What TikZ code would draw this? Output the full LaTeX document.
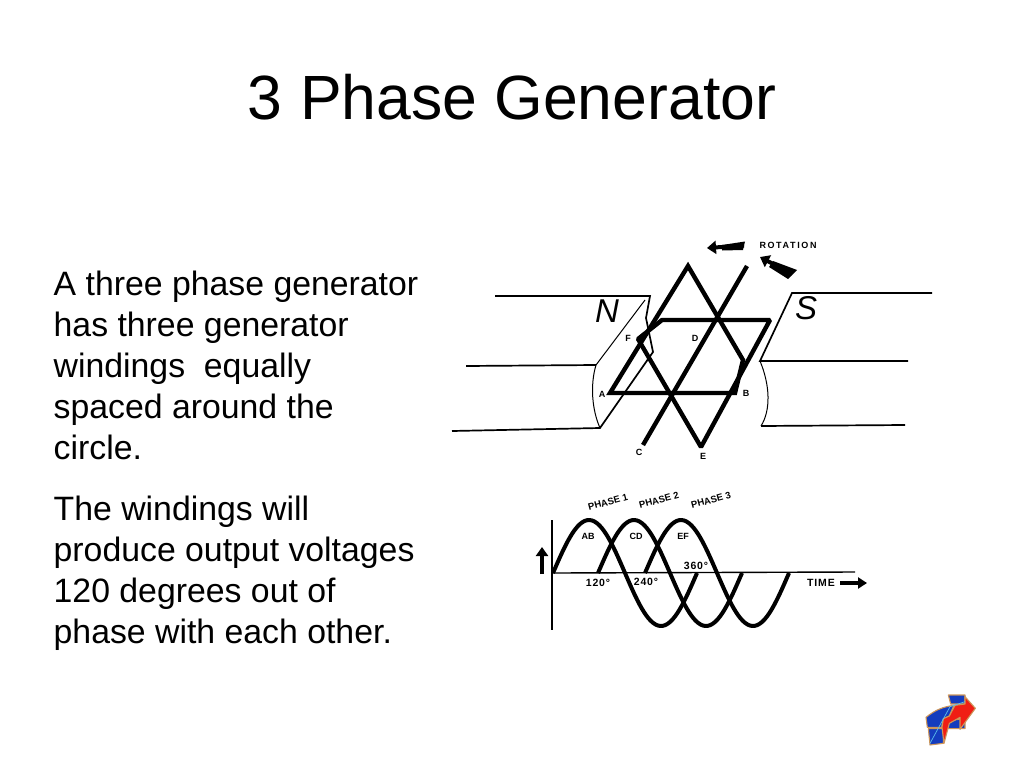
\documentclass[tikz,border=0pt]{standalone}
\usepackage{fontspec}
\setmainfont{Liberation Sans}
\usetikzlibrary{arrows.meta}
\definecolor{logoblue}{RGB}{20,60,190}
\definecolor{logored}{RGB}{240,30,20}
\definecolor{logoedge}{RGB}{205,150,90}
\definecolor{logoline}{RGB}{90,190,235}
\begin{document}
\begin{tikzpicture}[x=1pt,y=-1pt,
    winding/.style={line width=4.4pt,line join=miter},
    pole/.style={line width=1.7pt},
    poleedge/.style={line width=1pt},
    wave/.style={line width=4pt,line join=round},
    bigarrow/.style={line width=4pt,-{Triangle[length=9pt,width=13pt]}},
    bodytext/.style={anchor=north west,inner sep=0pt,align=left,font=\fontsize{33.8}{41}\selectfont},
    small/.style={inner sep=0pt,font=\fontsize{9}{10}\selectfont\bfseries},
    phase/.style={inner sep=0pt,rotate=15,font=\fontsize{9.5}{10}\selectfont\bfseries},
    wide/.style={inner sep=0pt,font=\fontsize{10.5}{12}\selectfont\bfseries\addfontfeature{LetterSpace=8}},
    poletext/.style={inner sep=0pt,font=\fontsize{33}{36}\selectfont\itshape},
    logopart/.style={draw=logoedge,line width=1.1pt,line join=round}]
    \useasboundingbox (0,0) rectangle (1024,768);

    \node[inner sep=0pt,font=\fontsize{62.5}{70}\selectfont] (title) at (512,97) {3 Phase Generator};
    \node[bodytext] (first) at (53.5,271) {A three phase generator\\has three generator\\windings\ \ equally\\spaced around the\\circle.};
    \node[bodytext] (second) at (53.5,496) {The windings will\\produce output voltages\\120 degrees out of\\phase with each other.};

    \coordinate (tip) at (688,266);
    \coordinate (a) at (610,393);
    \coordinate (b) at (735,393);
    \coordinate (bend) at (743,360);
    \coordinate (c) at (643,445);
    \coordinate (top) at (747,266);
    \coordinate (e) at (701,447);
    \coordinate (f) at (638,339);
    \coordinate (fup) at (662,320);
    \coordinate (right) at (770,320);
    \draw[winding] (a) -- (tip) -- (bend) -- (b) -- cycle;
    \draw[winding,line join=bevel] (f) -- (e) -- (right) -- (fup) -- cycle;
    \draw[winding] (c) -- (top);

    \coordinate (ntl) at (495,296);
    \coordinate (ntr) at (650,296);
    \coordinate (nml) at (466,366);
    \coordinate (nmr) at (596,365);
    \coordinate (nbl) at (452,431);
    \coordinate (nbr) at (600,428);
    \draw[pole] (ntl) -- (ntr) -- (646,318) -- (653,352) -- (nbr) -- (nbl);
    \draw[pole] (nml) -- (nmr);
    \draw[poleedge] (645,300) -- (nmr) .. controls (590,385) and (592,410) .. (nbr);
    \coordinate (str) at (932,293);
    \coordinate (stl) at (792,293);
    \coordinate (smr) at (908,361);
    \coordinate (sml) at (760,361);
    \coordinate (sbl) at (761,426);
    \coordinate (sbr) at (905,425);
    \draw[pole] (str) -- (stl) -- (sml) -- (smr);
    \draw[poleedge] (sml) .. controls (770,385) and (771,410) .. (sbl);
    \draw[pole] (sbl) -- (sbr);

    \node[poletext] (north) at (607,311) {N};
    \node[poletext] (south) at (806,308) {S};
    \node[small] (la) at (602,394) {A};
    \node[small] (lb) at (746,393) {B};
    \node[small] (lc) at (639,452) {C};
    \node[small] (ld) at (695,338) {D};
    \node[small] (le) at (703,456) {E};
    \node[small] (lf) at (628,338) {F};
    \node[small] (rotation) at (788,245) {\addfontfeature{LetterSpace=18}ROTATION};

    \coordinate (one) at (744,245.5);
    \coordinate (onetip) at (707,248);
    \coordinate (two) at (792,274);
    \coordinate (twotip) at (760,257);
    \draw[bigarrow] (one) -- (onetip);
    \fill (745,241.5) -- (743,250) -- (722,250.5) -- (722,245) -- cycle;
    \draw[bigarrow] (two) -- (twotip);
    \fill (797,270) -- (788,279) -- (769,267) -- (773,261) -- cycle;

    \coordinate (org) at (553,573);
    \draw[line width=1.2pt] (552,520) -- (552,630);
    \draw[line width=1.4pt] (org) -- (855,572);
    \foreach \start in {553,598,645} {
      \draw[wave] plot[domain=0:360,samples=60,smooth] ({\start+\x*0.4},{573-53*sin(\x)});
    }
    \node[phase] (p1) at (608,502) {PHASE 1};
    \node[phase] (p2) at (659,500) {PHASE 2};
    \node[phase] (p3) at (711,500) {PHASE 3};
    \node[small] (ab) at (588,536) {AB};
    \node[small] (cd) at (636,536) {CD};
    \node[small] (ef) at (683,536) {EF};
    \node[wide] (d120) at (598,583) {120°};
    \node[wide] (d240) at (646,582) {240°};
    \node[wide] (d360) at (696,566) {360°};
    \node[wide] (time) at (821,583) {TIME};
    \coordinate (timea) at (840,583);
    \coordinate (timeb) at (867,583);
    \draw[line width=3.5pt,-{Triangle[length=9pt,width=11pt]}] (timea) -- (timeb);
    \coordinate (upa) at (542,574);
    \coordinate (upb) at (542,547);
    \draw[line width=3.5pt,-{Triangle[length=9pt,width=12pt]}] (upa) -- (upb);

    \begin{scope}[shift={(910,680)},x=0.3333pt,y=-0.3333pt]
      \fill[logopart,fill=logoblue] (115,45) -- (165,45) -- (165,72) -- (122,72) -- cycle;
      \fill[logopart,fill=logoblue] (48,112) .. controls (75,90) and (100,80) .. (132,76) -- (118,108) -- (100,116) -- (95,142) -- (52,142) -- cycle;
      \fill[logopart,fill=logoblue] (55,146) -- (100,146) -- (100,190) -- (60,195) -- cycle;
      \fill[logopart,fill=logoblue] (118,122) -- (165,115) -- (165,146) -- (110,146) -- cycle;
      \fill[logopart,fill=logored] (165,50) -- (196,85) -- (150,148) -- (150,112) -- (118,130) -- (102,190) -- (96,142) -- (100,116) -- (118,108) -- (135,76) -- (165,72) -- cycle;
      \draw[logoline,line width=0.7pt] (60,190) -- (120,80) -- (165,65);
    \end{scope}
\end{tikzpicture}
\end{document}
